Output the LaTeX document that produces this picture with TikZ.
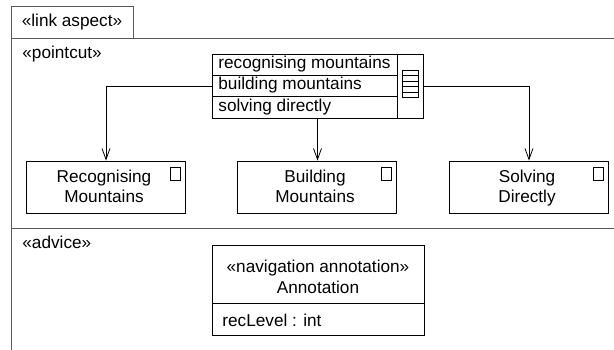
\documentclass[tikz,border=0pt]{standalone}
\usepackage{fontspec}
\setmainfont{Liberation Sans}
\usetikzlibrary{arrows.meta}
\newcommand\mfs{\fontsize{17.2}{21}\selectfont}
\begin{document}
\begin{tikzpicture}[x=1pt,y=-1pt,line width=0.8pt,
  lbl/.style={inner sep=0pt,font=\mfs},
  blbl/.style={inner sep=0pt,font=\mfs,anchor=base},
  cbox/.style={draw,minimum width=159pt,minimum height=52pt,inner sep=0pt},
  sep/.style={draw=black!65,line width=1pt},
  conn/.style={-{Straight Barb[length=11pt,width=8pt,line width=0.8pt]}}]
\useasboundingbox (0,0) rectangle (614,350);
\fill[white] (0,0) rectangle (614,350);
% frame
\draw[sep] (11,350) -- (11,7) -- (133,7) -- (133,39);
\draw[sep] (11,39) -- (614,39);
\draw[sep] (11,229) -- (614,229);
\node[lbl] (tab) at (72,22) {«link aspect»};
\node[lbl,anchor=west] (pc) at (22,54) {«pointcut»};
\node[lbl,anchor=west] (adv) at (22,242) {«advice»};
% menu
\node[draw,minimum width=211pt,minimum height=64pt,inner sep=0pt] (menu) at (317.5,86) {};
\draw (212,75) -- (397,75);
\draw (212,96) -- (397,96);
\draw (397,54) -- (397,118);
\node[lbl,anchor=west] (m1) at (218,64.5) {recognising mountains};
\node[lbl,anchor=west] (m2) at (218,85.5) {building mountains};
\node[lbl,anchor=west] (m3) at (218,107) {solving directly};
\draw[line width=0.7pt] (402,70) rectangle (418,97);
\foreach \yy in {75.5,81,86.5,92} \draw[line width=0.7pt] (402,\yy) -- (418,\yy);
% boxes
\node[cbox] (rec) at (106,187) {};
\node[cbox] (build) at (317,187) {};
\node[cbox] (solv) at (529,187) {};
\node[blbl] (rec1) at (104,183) {Recognising};
\node[blbl] (rec2) at (104,203) {Mountains};
\node[blbl] (bu1) at (315,183) {Building};
\node[blbl] (bu2) at (315,203) {Mountains};
\node[blbl] (so1) at (527,183) {Solving};
\node[blbl] (so2) at (527,203) {Directly};
\foreach \b in {rec,build,solv}
  \draw[line width=0.7pt] ([xshift=-16pt,yshift=-7pt]\b.north east) rectangle ++(10,13);
% connectors
\draw[conn] (menu.west) -| (rec.north);
\draw[conn] (menu.east) -| (solv.north);
\draw[conn] (menu.south) -- (menu.south |- build.north);
% annotation
\node[draw,minimum width=212pt,minimum height=90pt,inner sep=0pt] (ann) at (318,290) {};
\draw (212,303) -- (424,303);
\node[lbl] (st) at (318,268) {«navigation annotation»};
\node[lbl] (an) at (318,287) {Annotation};
\node[lbl,anchor=west] (att) at (222,320) {recLevel : int};
\end{tikzpicture}
\end{document}
